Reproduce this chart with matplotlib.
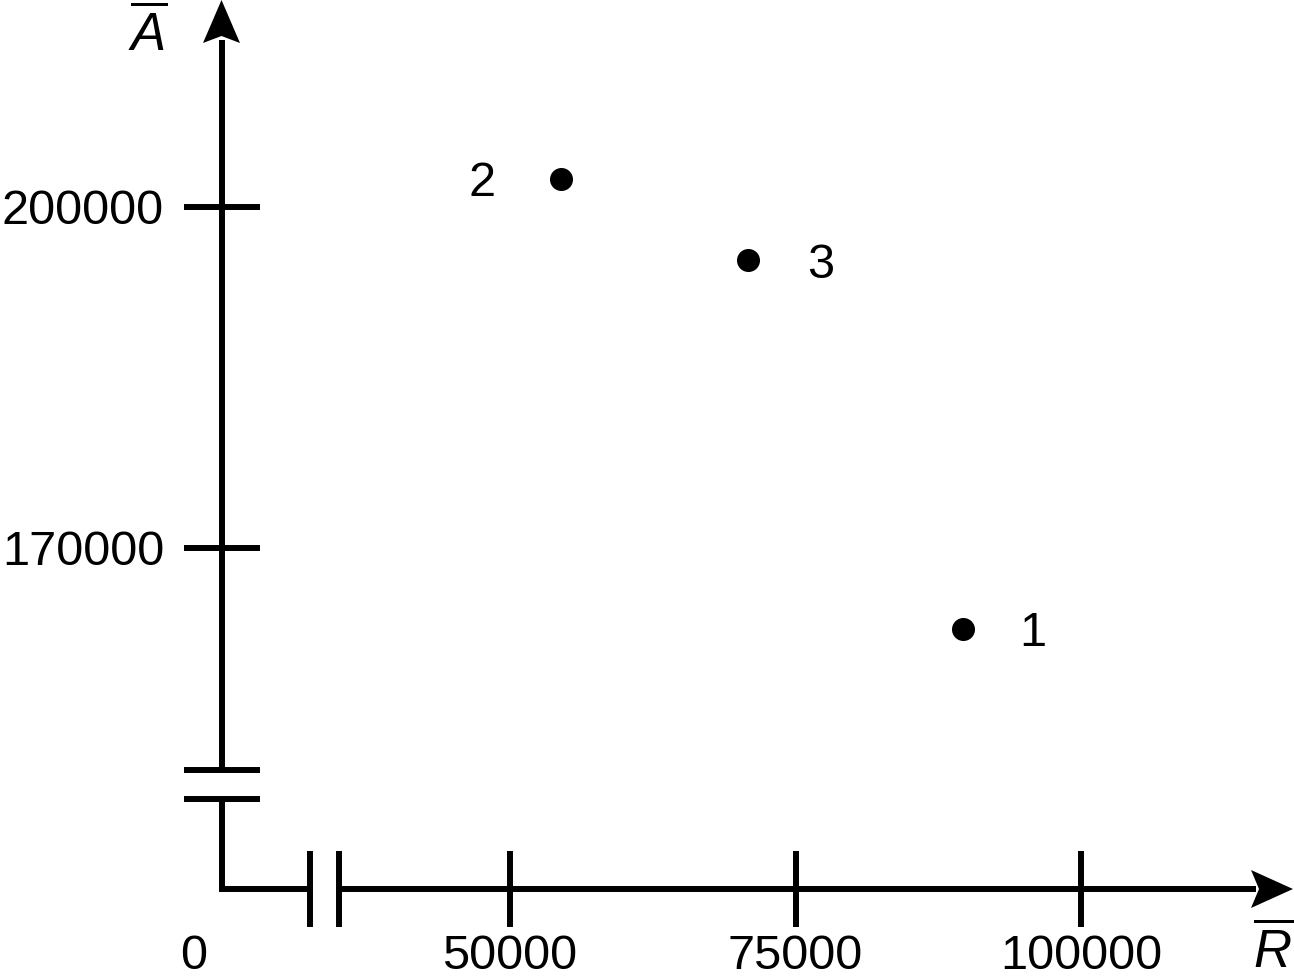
"""
Schematic scatter of three alternatives on broken R̄ / Ā axes.
"""
import matplotlib
matplotlib.use("Agg")
import matplotlib.pyplot as plt
from matplotlib.patches import Polygon

plt.rcParams["font.family"] = ["Liberation Sans", "DejaVu Sans"]
plt.rcParams["mathtext.fontset"] = "custom"
plt.rcParams["mathtext.rm"] = "Liberation Sans"
plt.rcParams["mathtext.it"] = "Liberation Sans:italic"

# --- data -------------------------------------------------------------
R_TICKS = [50000, 75000, 100000]
R_TICK_LABELS = ["50000", "75000", "100000"]
A_TICKS = [170000, 200000]
A_TICK_LABELS = ["170000", "200000"]

POINT_IDS = ["1", "2", "3"]
POINT_R = [89700, 54500, 70800]
POINT_A = [162900, 202500, 195300]

# --- layout (pixel frame of the 1294 x 977 canvas) --------------------
W, H, DPI = 1294, 977, 100
KX = (1081 - 510) / 50000.0        # px per R unit
KY = (548 - 207) / 30000.0         # px per A unit


def xr(px):
    return 50000 + (px - 510) / KX


def ya(py):
    return 200000 - (py - 207) / KY


INK = "#000000"
LW = 4.3
FS = 35
HALF_CAP = 0.358 * FS * DPI / 72.0   # px from visual centre of digits to baseline

fig = plt.figure(figsize=(W / DPI, H / DPI), dpi=DPI)
ax = fig.add_axes([0, 0, 1, 1])
ax.set_xlim(xr(0), xr(W))
ax.set_ylim(ya(H), ya(0))
ax.axis("off")

R0, A0 = xr(221.5), ya(889)
tick_dx, tick_dy = 38 / KX, 38 / KY
line_kw = dict(color=INK, lw=LW, solid_capstyle="butt", solid_joinstyle="miter")

# axes with breaks
ax.plot([R0, R0, xr(310)], [ya(799), A0, A0], **line_kw)
ax.plot([R0, R0], [ya(770), ya(40)], **line_kw)
ax.plot([xr(338.5), xr(1256)], [A0, A0], **line_kw)
for yb in (ya(770), ya(799)):
    ax.plot([R0 - tick_dx, R0 + tick_dx], [yb, yb], **line_kw)
for xb in (xr(310), xr(338.5)):
    ax.plot([xb, xb], [A0 - tick_dy, A0 + tick_dy], **line_kw)

# arrow heads
ax.add_patch(Polygon([(xr(221.5), ya(0)), (xr(203), ya(43)), (xr(221.5), ya(36)),
                      (xr(240), ya(43))], closed=True, fc=INK, ec="none"))
ax.add_patch(Polygon([(xr(1293), A0), (xr(1251), ya(870)), (xr(1259), A0),
                      (xr(1251), ya(908))], closed=True, fc=INK, ec="none"))

# ticks
for v, lab in zip(R_TICKS, R_TICK_LABELS):
    ax.plot([v, v], [A0 - tick_dy, A0 + tick_dy], **line_kw)
    ax.text(v, ya(952 + HALF_CAP), lab, fontsize=FS, ha="center", va="baseline",
            color=INK)
for v, lab in zip(A_TICKS, A_TICK_LABELS):
    ax.plot([R0 - tick_dx, R0 + tick_dx], [v, v], **line_kw)
    ax.annotate(lab, xy=(xr(164), v), xytext=(0, -HALF_CAP * 0.72),
                textcoords="offset points", fontsize=FS, ha="right",
                va="baseline", color=INK)
ax.text(xr(194), ya(952 + HALF_CAP), "0", fontsize=FS, ha="center", va="baseline",
        color=INK)

# axis names
ax.text(xr(148), ya(34), r"$\overline{A}$", fontsize=38, ha="center", va="center")
ax.text(xr(1273), ya(951), r"$\overline{R}$", fontsize=38, ha="center", va="center")

# points
ax.scatter(POINT_R, POINT_A, s=275, color=INK, zorder=5, linewidths=0)
offsets = {"1": 50, "2": -57, "3": 53}
for pid, r, a in zip(POINT_IDS, POINT_R, POINT_A):
    ax.annotate(pid, xy=(r, a), xytext=(offsets[pid], -HALF_CAP * 0.72),
                textcoords="offset points", fontsize=FS, ha="center",
                va="baseline", color=INK)

fig.savefig("out.png", dpi=DPI, facecolor="white")
